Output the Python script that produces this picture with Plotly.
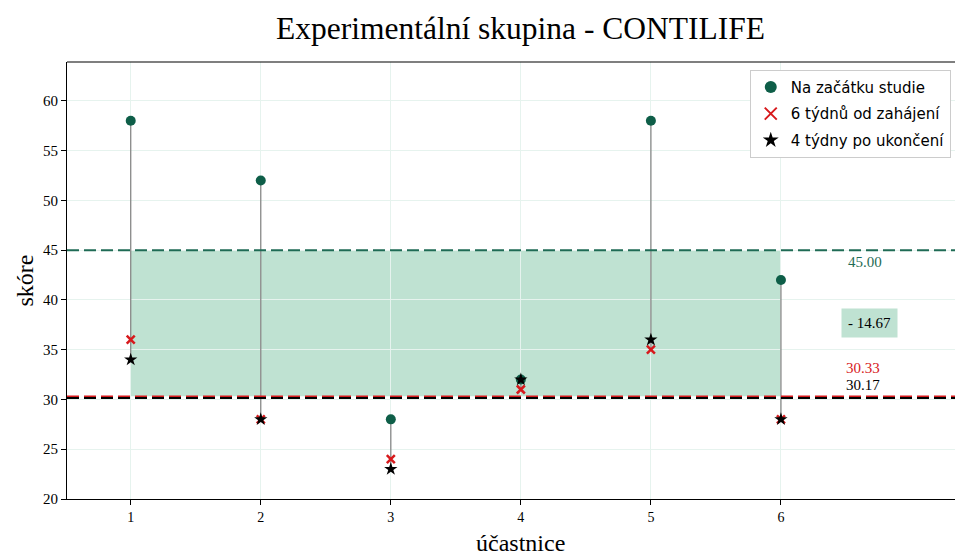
import plotly.graph_objects as go

participants = [1, 2, 3, 4, 5, 6]
baseline = [58, 52, 28, 32, 58, 42]
week6 = [36, 28, 24, 31, 35, 28]
after4 = [34, 28, 23, 32, 36, 28]
x_ticks = [1, 2, 3, 4, 5, 6]
y_ticks = [20, 25, 30, 35, 40, 45, 50, 55, 60]

mean_base = sum(baseline) / len(baseline)
mean_w6 = sum(week6) / len(week6)
mean_a4 = sum(after4) / len(after4)

SERIF = "Liberation Serif, Times New Roman, serif"
DARK_GREEN = "#0e5e48"
LINE_GREEN = "#1f6b55"
RED = "#d7191c"
DASH = "12px,5px"

fig = go.Figure()

# shaded region between baseline mean and 6-week mean
fig.add_shape(type="rect", x0=1, x1=6, y0=mean_w6, y1=mean_base,
              fillcolor="#bfe2d2", line_width=0, layer="below")

# vertical connector lines
for p, b, w, a in zip(participants, baseline, week6, after4):
    lo = min(b, w, a)
    hi = max(b, w, a)
    fig.add_trace(go.Scatter(x=[p, p], y=[hi, lo], mode="lines",
                             line=dict(color="#888888", width=1.3),
                             showlegend=False, hoverinfo="skip"))

# mean lines
fig.add_shape(type="line", xref="paper", x0=0, x1=1, y0=mean_base, y1=mean_base,
              line=dict(color=LINE_GREEN, width=2, dash=DASH))
fig.add_shape(type="line", xref="paper", x0=0, x1=1, y0=mean_a4, y1=mean_a4,
              line=dict(color="black", width=2.5, dash=DASH))
fig.add_shape(type="line", xref="paper", x0=0, x1=1, y0=mean_w6, y1=mean_w6,
              line=dict(color=RED, width=1.5, dash=DASH))

fig.add_trace(go.Scatter(x=participants, y=baseline, mode="markers",
                         marker=dict(symbol="circle", size=10, color=DARK_GREEN),
                         name="Na začátku studie", legendgroup="a"))
fig.add_trace(go.Scatter(x=participants, y=week6, mode="markers",
                         marker=dict(symbol="x-thin", size=8, color=RED,
                                     line=dict(color=RED, width=2.5)),
                         name="6 týdnů od zahájení", legendgroup="b"))
fig.add_trace(go.Scatter(x=participants, y=after4, mode="markers",
                         marker=dict(symbol="star", size=10, color="black"),
                         name="4 týdny po ukončení", legendgroup="c"))

fig.add_annotation(x=6.65, y=43.8, text=f"{mean_base:.2f}", showarrow=False,
                   font=dict(family=SERIF, size=15, color=LINE_GREEN))
fig.add_annotation(x=6.68, y=37.7, text=f"- {mean_base - mean_w6:.2f}", showarrow=False,
                   font=dict(family=SERIF, size=15, color="black"),
                   bgcolor="#bfe2d2", borderpad=6)
fig.add_annotation(x=6.63, y=33.2, text=f"{mean_w6:.2f}", showarrow=False,
                   font=dict(family=SERIF, size=15, color=RED))
fig.add_annotation(x=6.63, y=31.5, text=f"{mean_a4:.2f}", showarrow=False,
                   font=dict(family=SERIF, size=15, color="black"))

# titles as annotations
fig.add_annotation(xref="paper", yref="paper", x=0.5056, y=1.0778,
                   text="Experimentální skupina - CONTILIFE", showarrow=False,
                   xanchor="center", yanchor="middle",
                   font=dict(family=SERIF, size=31.5, color="black"))
fig.add_annotation(xref="paper", yref="paper", x=0.5056, y=-0.1,
                   text="účastnice", showarrow=False,
                   xanchor="center", yanchor="middle",
                   font=dict(family=SERIF, size=24, color="black"))
fig.add_annotation(xref="paper", yref="paper", x=-0.0469, y=0.5,
                   text="skóre", showarrow=False, textangle=-90,
                   xanchor="center", yanchor="middle",
                   font=dict(family=SERIF, size=24, color="black"))

fig.update_layout(
    width=955, height=548,
    margin=dict(l=59, r=0, t=54, b=57, autoexpand=False),
    plot_bgcolor="white", paper_bgcolor="white",
    legend=dict(x=0.762, xanchor="left", y=0.982, yanchor="top",
                bgcolor="white", bordercolor="#cccccc", borderwidth=1,
                font=dict(family="DejaVu Sans, sans-serif", size=15, color="black"),
                tracegroupgap=4, itemsizing="constant"),
    showlegend=True,
)
fig.update_xaxes(range=[0.51, 7.4], tickvals=x_ticks, ticktext=[str(t) for t in x_ticks],
                 showgrid=True, gridcolor="#e6f3ee", gridwidth=1,
                 showline=True, linecolor="black", linewidth=1.2, mirror=False,
                 ticks="outside", ticklen=5, tickcolor="black",
                 tickfont=dict(family=SERIF, size=14, color="black"),
                 automargin=False, zeroline=False)
fig.update_yaxes(range=[20, 63.9], tickvals=y_ticks,
                 showgrid=True, gridcolor="#e6f3ee", gridwidth=1,
                 showline=True, linecolor="black", linewidth=1.2,
                 ticks="outside", ticklen=5, tickcolor="black",
                 tickfont=dict(family=SERIF, size=15, color="black"),
                 automargin=False, zeroline=False)
# top spine
fig.add_shape(type="line", xref="paper", yref="paper", x0=0, x1=1, y0=1, y1=1,
              line=dict(color="black", width=1.2))

fig.write_html("out.html")
